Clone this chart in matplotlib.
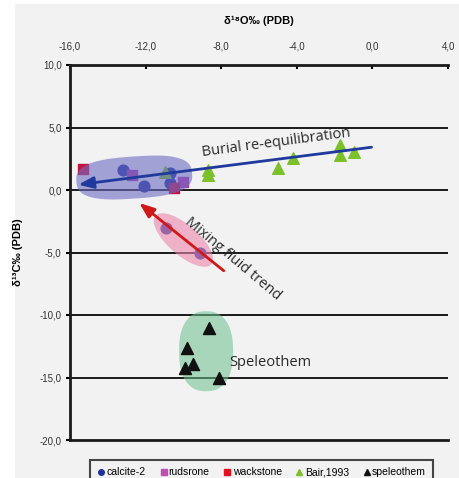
import numpy as np
import matplotlib
matplotlib.use("Agg")
import matplotlib.pyplot as plt
from matplotlib.patches import Polygon, Rectangle
from matplotlib.lines import Line2D

plt.rcParams['font.family'] = ['Liberation Sans', 'DejaVu Sans']

# data (d18O, d13C)
calcite_x = [-13.2, -12.1, -10.7, -10.7, -10.9, -9.1]
calcite_y = [1.6, 0.3, 1.35, 0.55, -3.0, -5.0]
rud_x = [-12.7, -10.0]
rud_y = [1.2, 0.65]
wack_x = [-15.3, -10.5]
wack_y = [1.65, 0.2]
bair_x = [-11.0, -8.7, -8.7, -5.0, -4.2, -1.7, -1.7, -1.0]
bair_y = [1.45, 1.6, 1.2, 1.75, 2.55, 3.6, 2.8, 3.05]
spel_x = [-8.65, -9.8, -9.9, -9.5, -8.1]
spel_y = [-11.0, -12.6, -14.2, -13.9, -15.05]

xticks = [-16, -12, -8, -4, 0, 4]
yticks = [10, 5, 0, -5, -10, -15, -20]

W, H = 459, 478
fig = plt.figure(figsize=(W / 100, H / 100), dpi=100)
fig.patch.set_facecolor('white')
fig.patches.append(Rectangle((15 / W, 0), 1, 1 - 4 / H, transform=fig.transFigure,
                             facecolor='#f2f2f2', edgecolor='none', zorder=-10))

ax = fig.add_axes([70 / W, 1 - 440 / H, (448 - 70) / W, (440 - 65) / H])
ax.set_facecolor('none')
ax.set_xlim(-16, 4)
ax.set_ylim(-20, 10)

# px per unit (approx) for blob shapes
sx, sy = 378 / 20, 375 / 30


def blob(cx, cy, a, b, ang, p=2.0, n=80):
    # rounded superellipse, sizes in pixels
    t = np.linspace(0, 2 * np.pi, n)
    c, s = np.cos(t), np.sin(t)
    ex = a * np.sign(c) * np.abs(c) ** (2 / p)
    ey = b * np.sign(s) * np.abs(s) ** (2 / p)
    r = np.deg2rad(ang)
    px = ex * np.cos(r) - ey * np.sin(r)
    py = ex * np.sin(r) + ey * np.cos(r)
    return np.column_stack([cx + px / sx, cy + py / sy])


for y in [5, 0, -5, -10, -15]:
    ax.axhline(y, color='#1a1a1a', lw=1.4, zorder=1)

ax.scatter(calcite_x, calcite_y, marker='o', s=60, color='#1f2f9c', zorder=3)
ax.scatter(rud_x, rud_y, marker='s', s=50, color='#b03aa0', zorder=3)
ax.scatter(wack_x, wack_y, marker='s', s=50, color='#c8103c', zorder=3)
ax.scatter(bair_x, bair_y, marker='^', s=70, color='#7cc02a', zorder=3)
ax.scatter(spel_x, spel_y, marker='^', s=75, color='#111111', zorder=3)

ax.add_patch(Polygon(blob(-12.6, 1.0, 58, 21, 4, p=2.8), closed=True,
                     facecolor='#6c6cc4', alpha=0.6, edgecolor='none', zorder=4))
ax.add_patch(Polygon(blob(-10.0, -4.0, 37, 15, -41), closed=True,
                     facecolor='#ec86ac', alpha=0.6, edgecolor='none', zorder=4))
ax.add_patch(Polygon(blob(-8.8, -12.9, 27, 40, 0, p=2.4), closed=True,
                     facecolor='#6cc08c', alpha=0.55, edgecolor='none', zorder=2))

ax.annotate('', xy=(-15.7, 0.4), xytext=(0.1, 3.45),
            arrowprops=dict(arrowstyle='-|>,head_length=0.9,head_width=0.35',
                            color='#1f3a9c', lw=2), zorder=5)
ax.annotate('', xy=(-12.45, -0.9), xytext=(-7.75, -6.6),
            arrowprops=dict(arrowstyle='-|>,head_length=0.9,head_width=0.35',
                            color='#d01818', lw=2), zorder=5)

ax.text(-5.1, 3.8, 'Burial re-equilibration', rotation=7.5, fontsize=10.5,
        family='Open Sans', color='#2a2a2a', ha='center', va='center', zorder=6)
ax.text(-7.4, -5.5, 'Mixing fluid trend', rotation=-40, fontsize=10.5,
        family='Open Sans', color='#2a2a2a', ha='center', va='center', zorder=6)
ax.text(-7.6, -13.8, 'Speleothem', fontsize=10.5, family='Open Sans',
        color='#2a2a2a', ha='left', va='center', zorder=6)

ax.xaxis.tick_top()
ax.xaxis.set_label_position('top')
ax.set_xticks(xticks)
ax.set_xticklabels([f'{v:.1f}'.replace('.', ',') for v in xticks])
ax.set_yticks(yticks)
ax.set_yticklabels([f'{v:.1f}'.replace('.', ',') for v in yticks])
ax.tick_params(axis='x', direction='in', length=3, width=1.5, labelsize=7,
               labelcolor='#333333', pad=10)
ax.tick_params(axis='y', direction='out', length=3, width=1.5, labelsize=7,
               labelcolor='#333333', pad=3)
ax.set_xlabel('δ¹⁸O‰ (PDB)', fontsize=8, fontweight='bold', labelpad=12)
ax.set_ylabel('δ¹³C‰ (PDB)', fontsize=8, fontweight='bold', labelpad=12)

for s in ['top', 'left', 'bottom']:
    ax.spines[s].set_linewidth(2)
    ax.spines[s].set_color('#1a1a1a')
ax.spines['right'].set_visible(False)

handles = [
    Line2D([], [], marker='o', ls='', color='#1f2f9c', ms=4, label='calcite-2'),
    Line2D([], [], marker='s', ls='', color='#c050b0', ms=4, label='rudsrone'),
    Line2D([], [], marker='s', ls='', color='#e01020', ms=4, label='wackstone'),
    Line2D([], [], marker='^', ls='', color='#7cc02a', ms=4, label='Bair,1993'),
    Line2D([], [], marker='^', ls='', color='#111111', ms=4, label='speleothem'),
]
leg = fig.legend(handles=handles, loc='upper left', ncol=5,
                 bbox_to_anchor=(90 / W, 1 - 460 / H), frameon=True, fancybox=False,
                 fontsize=7.5, handletextpad=0.1, columnspacing=1.3,
                 handlelength=0.8, borderpad=0.7, borderaxespad=0)
leg.get_frame().set_edgecolor('#1a1a1a')
leg.get_frame().set_linewidth(1.5)
leg.get_frame().set_facecolor('#f2f2f2')

fig.savefig('out.png', dpi=100, facecolor=fig.get_facecolor())
